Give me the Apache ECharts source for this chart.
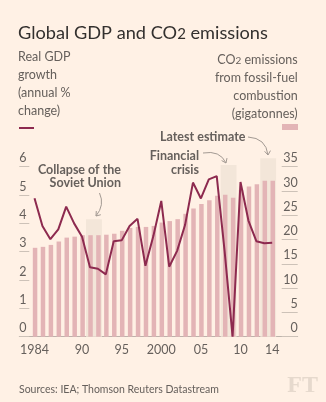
<!DOCTYPE html>
<html><head><meta charset="utf-8">
<script src="https://cdn.jsdelivr.net/npm/echarts@6/dist/echarts.min.js"></script>
<style>html,body{margin:0;padding:0;background:#fff1e5;}#c{width:326px;height:402px;}</style>
</head><body><div id="c"></div>
<script>
// ---- data ----
const years = [1984,1985,1986,1987,1988,1989,1990,1991,1992,1993,1994,1995,1996,1997,1998,1999,2000,2001,2002,2003,2004,2005,2006,2007,2008,2009,2010,2011,2012,2013,2014];
const co2Emissions = [18.3,18.5,18.9,19.6,20.4,20.6,20.9,20.9,20.9,21.0,21.2,21.8,22.4,22.6,22.6,22.8,23.5,23.8,24.2,25.3,26.4,27.3,28.1,29.0,29.2,28.6,30.2,30.9,31.4,32.1,32.1];
const gdpGrowth = [4.89,3.91,3.44,3.79,4.59,4.0,3.53,2.45,2.40,2.20,3.37,3.40,3.91,4.16,2.50,3.55,4.79,2.47,3.03,3.94,5.44,4.88,5.55,5.67,3.0,0.0,5.46,4.10,3.37,3.30,3.32];
const xTickYears = [1984,1990,1995,2000,2005,2010,2014];
const xTickLabels = ['1984','90','95','2000','05','10','14'];
const leftTicks = [0,1,2,3,4,5,6];
const rightTicks = [0,5,10,15,20,25,30,35];
const highlights = [
  {from:1990.5, to:1992.5, top:24.2},
  {from:2007.5, to:2009.5, top:35.35},
  {from:2012.5, to:2014.5, top:36.75}
];

const FONT = 'Lato';
const GREY = '#66605c';
const CLARET = '#8d2a4f';
const PINK = '#e3b4b6';
const BOX = '#f3e6d9';
const ARROW = '#a39a93';

function arrow(x1,y1,cx,cy,x2,y2){
  const dx = x2-cx, dy = y2-cy, L = Math.hypot(dx,dy);
  const ux = dx/L, uy = dy/L, s = 5, a = Math.PI/5;
  const p1 = [x2 - s*(ux*Math.cos(a) - uy*Math.sin(a)), y2 - s*(uy*Math.cos(a) + ux*Math.sin(a))];
  const p2 = [x2 - s*(ux*Math.cos(a) + uy*Math.sin(a)), y2 - s*(uy*Math.cos(a) - ux*Math.sin(a))];
  return [
    {type:'bezierCurve', shape:{x1:x1,y1:y1,cpx1:cx,cpy1:cy,x2:x2,y2:y2}, style:{stroke:ARROW,lineWidth:1,fill:null}, silent:true},
    {type:'polyline', shape:{points:[p1,[x2,y2],p2]}, style:{stroke:ARROW,lineWidth:1,fill:null}, silent:true}
  ];
}

const chart = echarts.init(document.getElementById('c'), null, {renderer:'canvas'});
const option = {
  backgroundColor:'#fff1e5',
  animation:false,
  textStyle:{fontFamily:FONT},
  grid:{left:19.3, right:28.3, top:158.2, bottom:65.3},
  xAxis:{
    type:'value', min:1982.08, max:2017.22,
    axisLine:{show:true, lineStyle:{color:'#bcb3ab', width:1}},
    axisTick:{show:false},
    splitLine:{show:false},
    axisLabel:{customValues:xTickYears, color:GREY, fontSize:12.5, margin:7, fontFamily:FONT,
      formatter:function(v){ const i = xTickYears.indexOf(Math.round(v)); return i>=0 ? xTickLabels[i] : ''; }}
  },
  yAxis:[
    {type:'value', position:'left', min:0, max:6.3,
      axisLine:{show:false}, splitLine:{show:false},
      axisTick:{show:true, inside:true, length:10, customValues:leftTicks, lineStyle:{color:'#cdc2b8'}},
      axisLabel:{inside:true, customValues:leftTicks, align:'left', verticalAlign:'bottom', margin:0, color:GREY, fontSize:12.5, fontFamily:FONT, padding:[0,0,2,0]}
    },
    {type:'value', position:'right', min:0, max:36.75,
      axisLine:{show:false}, splitLine:{show:false},
      axisTick:{show:true, inside:true, length:16, customValues:rightTicks, lineStyle:{color:'#cdc2b8'}},
      axisLabel:{inside:true, customValues:rightTicks, align:'right', verticalAlign:'bottom', margin:0, color:GREY, fontSize:12.5, fontFamily:FONT, padding:[0,0,2,0]}
    }
  ],
  series:[
    {type:'bar', yAxisIndex:1, data:[], z:1, silent:true,
      markArea:{silent:true, itemStyle:{color:BOX}, label:{show:false},
        data: highlights.map(h => [{xAxis:h.from, yAxis:0},{xAxis:h.to, yAxis:h.top}])}
    },
    {type:'bar', yAxisIndex:1, barWidth:4.5, z:2, silent:true,
      itemStyle:{color:PINK},
      data: years.map((y,i)=>[y, co2Emissions[i]])},
    {type:'line', yAxisIndex:0, z:3, silent:true, symbol:'none',
      lineStyle:{color:CLARET, width:2}, clip:false,
      data: years.map((y,i)=>[y, gdpGrowth[i]])}
  ],
  graphic:[
    {type:'text', left:18, top:21, style:{
      text:'{a|Global GDP and CO}{s|2}{a| emissions}', fill:'#33302e',
      rich:{a:{fontSize:18.2, fontFamily:FONT, fill:'#33302e', lineHeight:21, verticalAlign:'bottom'},
            s:{fontSize:15, fontFamily:FONT, fill:'#33302e', lineHeight:15, padding:[6,0,0,0], verticalAlign:'bottom'}}}},
    {type:'text', x:18, y:48, style:{text:'Real GDP\ngrowth\n(annual %\nchange)', fill:GREY, fontSize:12.5, fontFamily:FONT, lineHeight:18}},
    {type:'text', x:297.7, y:48, style:{
      text:'{a|CO}{s|2}{a| emissions}\n{a|from fossil-fuel}\n{a|combustion}\n{a|(gigatonnes)}', align:'right',
      rich:{a:{fontSize:12.5, fontFamily:FONT, fill:GREY, lineHeight:18, verticalAlign:'bottom'},
            s:{fontSize:10, fontFamily:FONT, fill:GREY, lineHeight:10, padding:[5,0,0,0], verticalAlign:'bottom'}}}},
    {type:'line', shape:{x1:19, y1:128, x2:34, y2:128}, style:{stroke:CLARET, lineWidth:2}},
    {type:'rect', shape:{x:282, y:124, width:16, height:6}, style:{fill:PINK}},
    {type:'text', x:121, y:163, style:{text:'Collapse of the\nSoviet Union', align:'right', fill:GREY, fontSize:12.5, fontWeight:'bold', fontFamily:FONT, lineHeight:13.5}},
    {type:'text', x:199, y:149.5, style:{text:'Financial\ncrisis', align:'right', fill:GREY, fontSize:12.5, fontWeight:'bold', fontFamily:FONT, lineHeight:13.5}},
    {type:'text', x:160, y:130, style:{text:'Latest estimate', align:'left', fill:GREY, fontSize:12.5, fontWeight:'bold', fontFamily:FONT, lineHeight:13.5}},
    ...arrow(99.5,193,105,205,96,216),
    ...arrow(203,153,220,150,226,163),
    ...arrow(248,137,266,138,268,155),
    {type:'text', x:19, y:384, style:{text:'Sources: IEA; Thomson Reuters Datastream', fill:GREY, fontSize:10.5, fontFamily:FONT}},
    {type:'text', x:318, y:374, style:{text:'FT', align:'right', fill:'#e6d9cd', fontSize:24, fontWeight:'bold', fontFamily:'Liberation Serif'}}
  ]
};
chart.setOption(option);
</script>
</body></html>
